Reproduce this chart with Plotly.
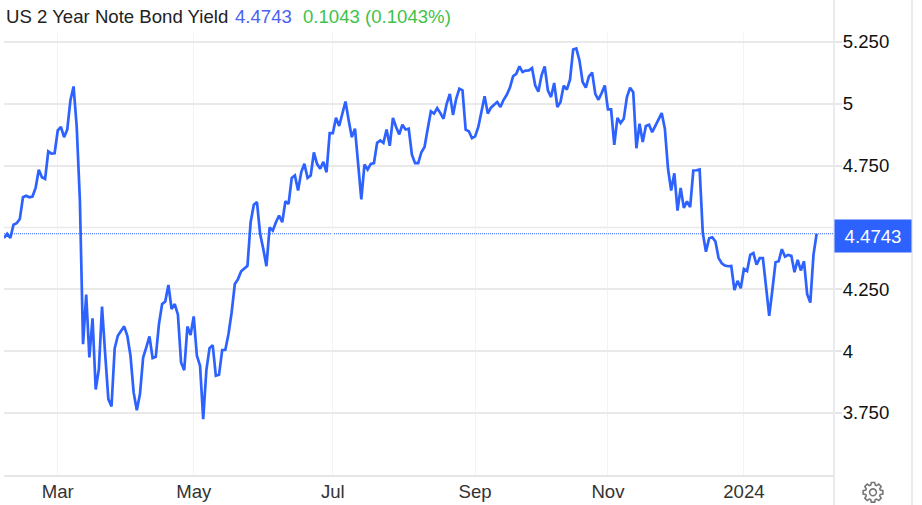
import math
import pandas as pd
import plotly.graph_objects as go

yields = [
4.457,4.474,4.457,4.511,4.517,4.534,4.622,4.628,4.622,4.625,4.66,4.733,4.703,4.696,4.807,4.798,4.80,4.892,4.906,4.865,4.895,5.013,5.07,4.906,4.609,
4.028,4.228,3.974,4.132,3.845,3.927,4.18,3.988,3.806,3.776,4.011,4.062,4.082,4.10,4.062,3.981,3.833,3.761,3.826,3.974,4.015,4.059,3.972,3.977,4.109,4.19,4.20,4.267,4.17,4.19,4.147,3.954,3.923,4.099,4.065,4.14,3.981,3.941,3.725,3.923,4.012,4.024,3.90,3.904,4.004,4.005,4.069,4.157,4.271,4.291,4.323,4.335,4.345,
4.521,4.592,4.602,4.474,4.413,4.343,4.50,4.487,4.521,4.548,4.521,4.606,4.595,4.70,4.71,4.649,4.723,4.757,4.70,4.71,4.803,4.757,4.737,4.765,4.723,4.881,4.881,4.943,4.91,4.96,5.009,4.933,4.865,4.899,4.757,4.613,4.754,4.734,4.757,4.76,4.842,4.852,4.842,4.896,4.83,4.943,4.906,4.876,4.915,4.896,4.899,4.794,4.76,4.76,4.804,4.825,4.899,4.969,4.96,4.982,4.962,4.939,5.0,5.04,4.955,5.02,5.061,
5.054,4.895,4.889,4.861,4.868,4.906,4.966,5.03,4.96,4.984,4.996,5.007,4.987,5.016,5.036,5.065,5.111,5.121,5.151,5.128,5.134,5.135,5.144,5.074,5.049,5.115,5.151,5.054,5.027,5.084,4.987,5.007,5.073,5.057,5.097,5.219,5.223,5.175,5.088,5.065,5.111,5.126,5.04,5.016,5.043,5.074,4.977,4.977,4.834,4.943,4.922,4.939,5.027,5.065,5.047,4.82,4.919,4.845,4.91,4.915,4.885,4.912,4.933,4.962,4.899,4.737,4.649,4.719,4.568,4.66,4.579,4.605,4.582,4.73,4.731,4.734,
4.477,4.402,4.456,4.46,4.443,4.376,4.355,4.346,4.343,4.344,4.247,4.284,4.254,4.332,4.324,4.389,4.396,4.349,4.376,4.376,4.261,4.142,4.247,4.359,4.363,4.412,4.382,4.389,4.385,4.319,4.369,4.326,4.363,4.23,4.196,4.389,4.4743,
]
dates = [d.strftime("%Y-%m-%d") for d in pd.bdate_range("2023-02-06", periods=len(yields))]
month_ticks = ["2023-03-01", "2023-05-01", "2023-06-30", "2023-09-01", "2023-10-31", "2023-12-29"]
month_labels = ["Mar", "May", "Jul", "Sep", "Nov", "2024"]
y_ticks = [3.75, 4, 4.25, 4.75, 5, 5.25]
y_labels = ["3.750", "4", "4.250", "4.750", "5", "5.250"]
last_value = 4.4743

W, H = 922, 505
L, R, T, B = 4, 834, 33, 474.7
BLUE = "#2d62ff"
FONT = "Liberation Sans"
GX, GY = 873, 492  # settings glyph centre


def gear_path(r_out=10, r_in=7.6, teeth=8):
    pts = []
    step = 2 * math.pi / teeth
    for k in range(teeth):
        a = k * step
        for da, r in ((-0.30, r_in), (-0.17, r_out), (0.17, r_out), (0.30, r_in)):
            pts.append((r * math.cos(a + da), r * math.sin(a + da)))
    return "M" + " L".join(f"{x:.2f},{y:.2f}" for x, y in pts) + " Z"


fig = go.Figure(go.Scatter(x=dates, y=yields, mode="lines", hoverinfo="skip",
                           line=dict(color=BLUE, width=2.7), cliponaxis=False))

fx = lambda px: (px - L) / (R - L)
fy = lambda py: (B - py) / (B - T)


def header(px, text, color):
    return dict(xref="paper", yref="paper", x=fx(px - 3), y=fy(17), xanchor="left", yanchor="middle",
                showarrow=False, align="left", font=dict(size=18.6, color=color), text=text)


fig.update_layout(
    width=W, height=H, autosize=False, showlegend=False,
    paper_bgcolor="white", plot_bgcolor="white",
    margin=dict(l=L, r=W - R, t=T, b=H - B, pad=0),
    font=dict(family=FONT, size=18.6, color="#1a1a1a"),
    xaxis=dict(type="category", categoryorder="array", categoryarray=dates,
               range=[0, (R - L) / 3.162], tickmode="array", tickvals=month_ticks, ticktext=month_labels,
               showgrid=True, gridcolor="#f0f3f7", gridwidth=1, zeroline=False,
               showline=True, linecolor="#e6e6e6", linewidth=1.5, ticks="", ticklen=0, ticklabelstandoff=-1,
               tickangle=0, automargin=False, tickfont=dict(size=18.6, color="#333333")),
    yaxis=dict(side="right", range=[3.499, 5.286], tickmode="array", tickvals=y_ticks, ticktext=y_labels,
               showgrid=True, gridcolor="#e9e9e9", gridwidth=1.5, zeroline=False,
               ticks="outside", ticklen=7, tickcolor="#e6e6e6", tickwidth=1.5, ticklabelstandoff=-3,
               showline=False, tickfont=dict(size=18.6, color="#111111")),
    shapes=[
        dict(type="line", xref="paper", yref="paper", x0=1, x1=1, y0=fy(505), y1=fy(0),
             line=dict(color="#e3e5e8", width=1.5), layer="below"),
        dict(type="line", xref="paper", yref="paper", x0=fx(912), x1=fx(912), y0=fy(505), y1=fy(0),
             line=dict(color="#e3e5e8", width=1.5), layer="below"),
        dict(type="line", xref="paper", yref="y", x0=0, x1=1, y0=4.5, y1=4.5,
             line=dict(color="#e9e9e9", width=1.5), layer="below"),
        dict(type="line", xref="paper", yref="y", x0=0, x1=1, y0=last_value, y1=last_value,
             line=dict(color=BLUE, width=1, dash="1px,1px"), layer="below"),
        dict(type="path", xref="paper", yref="paper", xsizemode="pixel", ysizemode="pixel",
             xanchor=fx(GX), yanchor=fy(GY), path=gear_path(),
             line=dict(color="#777777", width=1.6), fillcolor="rgba(0,0,0,0)"),
        dict(type="circle", xref="paper", yref="paper", xsizemode="pixel", ysizemode="pixel",
             xanchor=fx(GX), yanchor=fy(GY), x0=-3.4, x1=3.4, y0=-3.4, y1=3.4,
             line=dict(color="#777777", width=1.6)),
    ],
    annotations=[
        header(7, "US 2 Year Note Bond Yield", "#222222"),
        header(236, f"{last_value}", "#4a62f0"),
        header(304, "0.1043 (0.1043%)", "#3fc24a"),
        dict(xref="paper", yref="paper", x=fx(872.7), y=fy(235.5), xanchor="center", yanchor="middle",
             showarrow=False, text=f"{last_value}", font=dict(size=18.6, color="white"),
             bgcolor=BLUE, width=74, height=30),
    ],
)
fig.write_html("out.html", config=dict(displayModeBar=False),
               post_script="document.body.style.margin='0';document.documentElement.style.overflow='hidden';")
